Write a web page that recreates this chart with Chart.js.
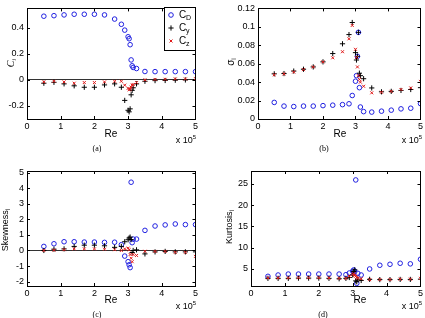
<!DOCTYPE html>
<html>
<head>
<meta charset="utf-8">
<script src="https://cdn.jsdelivr.net/npm/chart.js@4.4.1/dist/chart.umd.min.js"></script>
<style>
  body { margin: 0; background: #fff; }
  #fig { position: relative; width: 425px; height: 318px; overflow: hidden; background: #fff; }
  canvas { position: absolute; }
  .lbl { position: absolute; transform: translate(-50%, -50%); font-family: 'Liberation Sans', Arial, sans-serif; font-size: 10px; color: #000; white-space: nowrap; line-height: 1; }
  .rot { transform: translate(-50%, -50%) rotate(-90deg); }
  .exp { position: absolute; transform: translate(-100%, -50%); font-family: 'Liberation Sans', Arial, sans-serif; font-size: 9px; white-space: nowrap; line-height: 1; }
  .cap { font-family: 'Liberation Serif', 'Times New Roman', serif; font-size: 8px; }
  sub { font-size: 7px; vertical-align: -2px; }
  sup { font-size: 6px; vertical-align: 4px; }
</style>
</head>
<body>
<div id="fig">
  <canvas id="chartA" width="200" height="132" style="left:0;top:0;width:200px;height:132px"></canvas>
  <canvas id="chartB" width="213" height="132" style="left:212px;top:0;width:213px;height:132px"></canvas>
  <canvas id="chartC" width="200" height="140" style="left:0;top:160px;width:200px;height:140px"></canvas>
  <canvas id="chartD" width="213" height="140" style="left:212px;top:160px;width:213px;height:140px"></canvas>

  <div class="lbl rot" style="left:12px;top:63px;font-family:'Liberation Serif',serif;font-style:italic;font-size:10px">C<sub>i</sub></div>
  <div class="lbl rot" style="left:231px;top:62px">σ<sub>i</sub></div>
  <div class="lbl rot" style="left:6px;top:230px;font-size:9px">Skewness<sub>i</sub></div>
  <div class="lbl rot" style="left:230px;top:227px;font-size:9px">Kurtosis<sub>i</sub></div>

  <div class="lbl" style="left:111px;top:134px">Re</div>
  <div class="lbl" style="left:340px;top:134px">Re</div>
  <div class="lbl" style="left:111px;top:300px">Re</div>
  <div class="lbl" style="left:360px;top:300px">Re</div>

  <div class="exp" style="left:196px;top:139px">x 10<sup>5</sup></div>
  <div class="exp" style="left:422px;top:139px">x 10<sup>5</sup></div>
  <div class="exp" style="left:196px;top:305px">x 10<sup>5</sup></div>
  <div class="exp" style="left:422px;top:305px">x 10<sup>5</sup></div>

  <div class="lbl cap" style="left:97px;top:149px">(a)</div>
  <div class="lbl cap" style="left:324px;top:149px">(b)</div>
  <div class="lbl cap" style="left:97px;top:315px">(c)</div>
  <div class="lbl cap" style="left:323px;top:315px">(d)</div>
</div>

<script>
// ─── Data (Re in units of 1e5) ───────────────────────────────────────────────
const re = [0.5, 0.8, 1.1, 1.4, 1.7, 2.0, 2.3, 2.6, 2.8, 2.9, 3.0, 3.03, 3.06, 3.09, 3.12, 3.15, 3.25, 3.5, 3.8, 4.1, 4.4, 4.7, 5.0];
const xTicks = [0, 1, 2, 3, 4, 5];

// (a) mean coefficients
const cdMean = [0.49, 0.494, 0.50, 0.505, 0.505, 0.505, 0.50, 0.468, 0.428, 0.383, 0.332, 0.317, 0.271, 0.154, 0.109, 0.096, 0.088, 0.065, 0.064, 0.064, 0.064, 0.064, 0.064];
const cyMean = [-0.025, -0.018, -0.03, -0.045, -0.056, -0.056, -0.038, -0.03, -0.056, -0.157, -0.233, -0.245, -0.222, -0.114, -0.08, -0.06, -0.03, -0.01, -0.005, -0.004, -0.002, 0, 0.002];
const czMean = [-0.015, -0.01, -0.015, -0.025, -0.02, -0.02, -0.015, -0.01, -0.01, -0.04, -0.065, -0.075, -0.07, -0.055, -0.04, -0.035, -0.02, 0, 0.004, 0.005, 0.008, 0.008, 0.01];
const yTicksA = [-0.2, 0, 0.2, 0.4];

// (b) standard deviation
const cdStd = [0.018, 0.014, 0.0135, 0.014, 0.014, 0.0145, 0.015, 0.0156, 0.0165, 0.0255, 0.041, 0.047, 0.068, 0.094, 0.034, 0.013, 0.008, 0.0075, 0.0085, 0.0096, 0.011, 0.0117, 0.0167];
const cyStd = [0.049, 0.0493, 0.052, 0.054, 0.0565, 0.062, 0.071, 0.0816, 0.0916, 0.1047, 0.072, 0.064, 0.068, 0.094, 0.0497, 0.047, 0.0437, 0.0337, 0.0295, 0.030, 0.031, 0.032, 0.034];
const czStd = [0.048, 0.049, 0.051, 0.0536, 0.0565, 0.062, 0.0664, 0.073, 0.087, 0.1015, 0.0756, 0.0667, 0.0565, 0.047, 0.043, 0.040, 0.0355, 0.0284, 0.029, 0.030, 0.032, 0.0337, 0.0408];
const yTicksB = [0, 0.02, 0.04, 0.06, 0.08, 0.1, 0.12];

// (c) skewness
const cdSkew = [0.26, 0.43, 0.56, 0.56, 0.54, 0.54, 0.52, 0.53, 0.37, -0.36, -0.72, -0.92, -1.1, 4.38, 0.5, 0.73, 0.73, 1.29, 1.57, 1.64, 1.7, 1.66, 1.66];
const cySkew = [0, 0.08, 0.1, 0.26, 0.34, 0.34, 0.3, 0.2, 0.26, 0.56, 0.69, 0.8, 0.86, 0.7, -0.13, 0.0, 0.04, -0.22, -0.09, -0.06, -0.09, -0.09, -0.09];
const czSkew = [0, 0.02, 0.05, 0.1, 0.1, 0.1, 0.08, 0.05, 0, 0.1, 0.15, 0.05, -0.26, -0.5, -0.72, -0.26, -0.32, -0.05, -0.06, -0.06, -0.12, -0.12, -0.38];
const yTicksC = [-2, -1, 0, 1, 2, 3, 4, 5];

// (d) kurtosis
const cdKurt = [3.27, 3.58, 3.8, 3.8, 3.8, 3.8, 3.8, 3.8, 3.66, 4.05, 4.5, 4.76, 4.36, 25.9, 1.62, 3.98, 3.58, 5.0, 5.87, 6.1, 6.34, 6.2, 7.28];
const cyKurt = [2.8, 2.8, 2.8, 2.85, 2.85, 2.85, 2.8, 2.7, 2.8, 3.0, 3.6, 4.4, 4.8, 2.2, 2.0, 2.6, 2.3, 2.56, 2.5, 2.5, 2.55, 2.55, 2.6];
const czKurt = [2.9, 2.9, 2.9, 2.95, 2.95, 2.95, 2.9, 2.8, 2.8, 3.3, 3.7, 3.9, 3.5, 3.3, 3.0, 2.8, 2.7, 2.5, 2.5, 2.5, 2.6, 2.6, 2.8];
const yTicksD = [5, 10, 15, 20, 25];

const BLUE = '#2020e0';
const RED = '#e01818';
const FONT = { family: 'Liberation Sans', size: 9 };

// ─── Plugins ────────────────────────────────────────────────────────────────
// MATLAB-style box with inward ticks on all four sides
const boxPlugin = {
  id: 'box',
  afterDatasetsDraw(chart) {
    const { ctx, chartArea: a, scales } = chart;
    ctx.save();
    ctx.strokeStyle = '#000';
    ctx.lineWidth = 1;
    ctx.beginPath();
    scales.x.ticks.forEach(t => {
      const px = Math.round(scales.x.getPixelForValue(t.value)) + 0.5;
      ctx.moveTo(px, a.bottom); ctx.lineTo(px, a.bottom - 3);
      ctx.moveTo(px, a.top); ctx.lineTo(px, a.top + 3);
    });
    scales.y.ticks.forEach(t => {
      const py = Math.round(scales.y.getPixelForValue(t.value)) + 0.5;
      ctx.moveTo(a.left, py); ctx.lineTo(a.left + 3, py);
      ctx.moveTo(a.right, py); ctx.lineTo(a.right - 3, py);
    });
    ctx.stroke();
    ctx.strokeRect(Math.round(a.left) + 0.5, Math.round(a.top) + 0.5, Math.round(a.right - a.left), Math.round(a.bottom - a.top));
    ctx.restore();
  }
};

// legend box inside panel (a)
const legendBox = {
  id: 'legendBox',
  afterDraw(chart) {
    if (chart.canvas.id !== 'chartA') return;
    const ctx = chart.ctx;
    const x0 = 164.5, y0 = 7.5, w = 31, h = 43;
    ctx.save();
    ctx.fillStyle = '#fff';
    ctx.fillRect(x0, y0, w, h);
    ctx.strokeStyle = '#000';
    ctx.lineWidth = 1;
    ctx.strokeRect(x0, y0, w, h);
    const items = [['D', chart.data.datasets[0]], ['y', chart.data.datasets[1]], ['z', chart.data.datasets[2]]];
    items.forEach(([sub, ds], i) => {
      const y = 15 + i * 13;
      ctx.strokeStyle = ds.borderColor;
      ctx.fillStyle = 'rgba(0,0,0,0)';
      ctx.lineWidth = 1;
      Chart.helpers.drawPoint(ctx, { pointStyle: ds.pointStyle, radius: ds.pointRadius, borderWidth: 1 }, 171, y);
      ctx.fillStyle = '#000';
      ctx.font = '10px "Liberation Sans"';
      ctx.textBaseline = 'middle';
      ctx.fillText('C', 179, y);
      ctx.font = '7px "Liberation Sans"';
      ctx.fillText(sub, 186, y + 3);
    });
    ctx.restore();
  }
};

// ─── Chart factory ──────────────────────────────────────────────────────────
function series(vals) {
  return re.map((x, i) => ({ x: x, y: vals[i] }));
}

function makePanel(id, cd, cy, cz, yMin, yMax, yTicks, yWidth, xHeight, pad, zeroLine) {
  new Chart(document.getElementById(id), {
    type: 'scatter',
    data: {
      datasets: [
        { label: 'C_D', data: series(cd), pointStyle: 'circle', pointRadius: 2.3, borderWidth: 1, borderColor: BLUE, backgroundColor: 'rgba(0,0,0,0)', order: 3 },
        { label: 'C_y', data: series(cy), pointStyle: 'cross', pointRadius: 2.6, borderWidth: 1, borderColor: '#000', backgroundColor: '#000', order: 2 },
        { label: 'C_z', data: series(cz), pointStyle: 'crossRot', pointRadius: 2.1, borderWidth: 1, borderColor: RED, backgroundColor: RED, order: 1 },
      ],
    },
    options: {
      responsive: false,
      animation: false,
      events: [],
      layout: { autoPadding: false, padding: pad },
      plugins: { legend: { display: false }, tooltip: { enabled: false } },
      scales: {
        x: {
          type: 'linear',
          min: 0, max: 5,
          afterBuildTicks: (s) => { s.ticks = xTicks.map(v => ({ value: v })); },
          afterFit: (s) => { s.height = xHeight; },
          border: { display: false },
          grid: { drawOnChartArea: false, drawTicks: false },
          ticks: { font: FONT, color: '#000', padding: 2, maxRotation: 0, callback: (v) => String(v) },
        },
        y: {
          type: 'linear',
          min: yMin, max: yMax,
          afterBuildTicks: (s) => { s.ticks = yTicks.map(v => ({ value: v })); },
          afterFit: (s) => { s.width = yWidth; },
          border: { display: false },
          grid: {
            drawOnChartArea: zeroLine,
            drawTicks: false,
            lineWidth: 1,
            color: (c) => (zeroLine && c.tick && c.tick.value === 0) ? '#333' : 'rgba(0,0,0,0)',
          },
          ticks: { font: FONT, color: '#000', padding: 3, callback: (v) => String(v) },
        },
      },
    },
    plugins: [boxPlugin, legendBox],
  });
}

makePanel('chartA', cdMean, cyMean, czMean, -0.3, 0.55, yTicksA, 27, 13, { left: 0, top: 7, right: 4, bottom: 0 }, true);
makePanel('chartB', cdStd, cyStd, czStd, 0, 0.12, yTicksB, 46, 13, { left: 0, top: 7, right: 3, bottom: 0 }, false);
makePanel('chartC', cdSkew, cySkew, czSkew, -2.28, 5.1, yTicksC, 27, 14, { left: 0, top: 11, right: 4, bottom: 0 }, true);
makePanel('chartD', cdKurt, cyKurt, czKurt, 1, 28, yTicksD, 39, 14, { left: 0, top: 11, right: 3, bottom: 0 }, false);
</script>
</body>
</html>
